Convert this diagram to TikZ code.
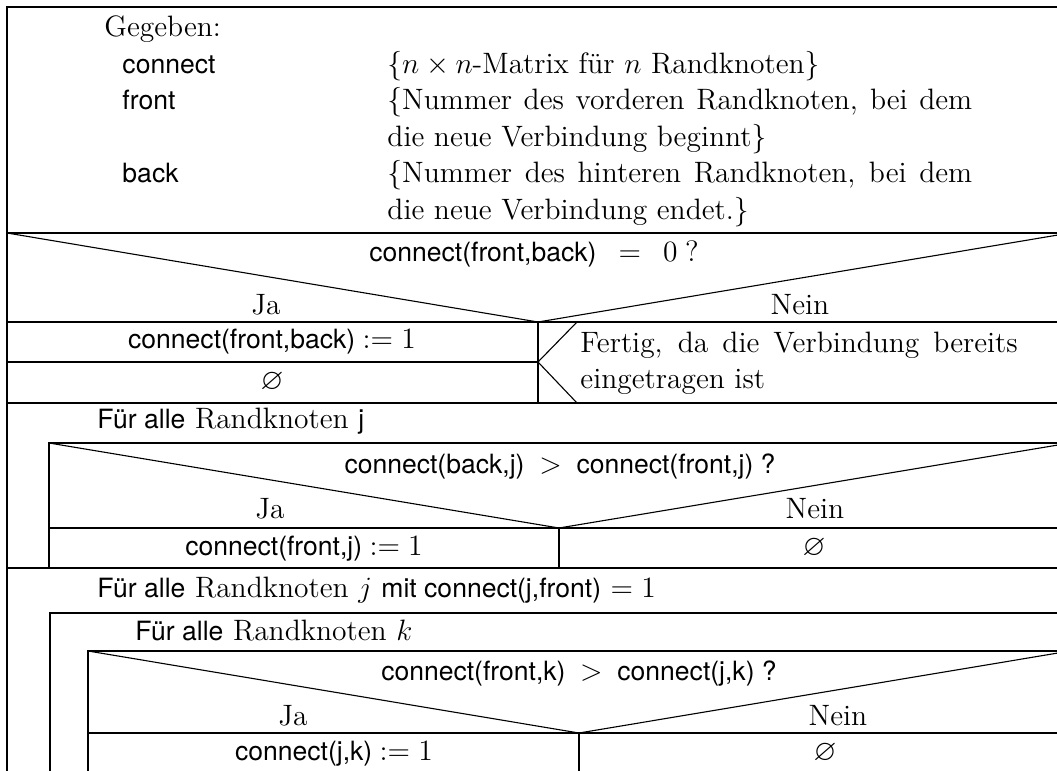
\documentclass[tikz,border=0pt]{standalone}
\usepackage{amsmath,amssymb}
\usepackage{fontspec}
\setsansfont[Scale=0.9]{TeX Gyre Heros}
\usetikzlibrary{positioning,calc}

\begin{document}
\begin{tikzpicture}[x=0.407pt, y=-0.407pt,
  rahmen/.style={line width=1.2pt},
  diag/.style={line width=0.45pt},
  txt/.style={inner sep=0pt, font=\fontsize{12}{14.5}\selectfont},
  sf/.style={inner sep=0pt, font=\fontsize{12}{14.5}\selectfont\sffamily}]
  \useasboundingbox (0,0) rectangle (1057,771);
  \clip (0,0) rectangle (1057,771);

  % Rahmen und waagrechte Trennlinien
  \draw[rahmen] (7,800) -- (7,7) -- (1070,7);
  \draw[rahmen] (7,233) -- (1070,233);
  \draw[rahmen] (7,322) -- (1070,322);
  \draw[rahmen] (7,403) -- (1070,403);
  \draw[rahmen] (7,568) -- (1070,568);

  % Gegeben
  \node[txt, anchor=base west] (gegeben) at (104,37) {Gegeben:};
  \node[sf, anchor=base west] (vconnect) at (122,74) {connect};
  \node[sf, anchor=base west] (vfront) at (122,110) {front};
  \node[sf, anchor=base west] (vback) at (122,183) {back};
  \node[txt, anchor=base west] (dconnect) at (387,74) {\{$n \times n$-Matrix für $n$ Randknoten\}};
  \node[txt, anchor=base west] (dfront) at (387,110) {\makebox[238pt][s]{\{Nummer des vorderen Randknoten, bei dem}};
  \node[txt, anchor=base west] (dfront2) at (387,147) {die neue Verbindung beginnt\}};
  \node[txt, anchor=base west] (dback) at (387,183) {\makebox[238pt][s]{\{Nummer des hinteren Randknoten, bei dem}};
  \node[txt, anchor=base west] (dback2) at (387,220) {die neue Verbindung endet.\}};

  % Verzweigung 1
  \draw[diag] (7,233) -- (538,322) -- (1070,233);
  \node[sf, anchor=base] (cond1) at (534,262) {connect(front,back)\ \ \ $=$\ \ \ $0$ \textrm{?}};
  \node[txt, anchor=base] (ja1) at (266,315) {Ja};
  \node[txt, anchor=base] (nein1) at (800,315) {Nein};
  \draw[rahmen] (7,362) -- (538,362);
  \draw[rahmen] (538,322) -- (538,403);
  \draw[diag] (577,322) -- (538,362) -- (577,403);
  \node[sf, anchor=base] (set1) at (272,349) {connect(front,back) $:= 1$};
  \node[txt, anchor=base] (leer1) at (272,390) {$\varnothing$};
  \node[txt, anchor=base west] (fertig) at (580,353) {\makebox[178pt][s]{Fertig, da die Verbindung bereits}};
  \node[txt, anchor=base west] (fertig2) at (580,389) {eingetragen ist};

  % Schleife ueber j
  \node[txt, anchor=base west] (loopj) at (97,429) {\textsf{Für alle} Randknoten \textsf{j}};
  \draw[rahmen] (49,568) -- (49,443) -- (1070,443);
  \draw[diag] (49,443) -- (559,528) -- (1070,443);
  \node[sf, anchor=base] (cond2) at (560,474) {connect(back,j)\ \ $>$\ \ connect(front,j)\ ?};
  \node[txt, anchor=base] (ja2) at (270,519) {Ja};
  \node[txt, anchor=base] (nein2) at (815,519) {Nein};
  \draw[rahmen] (49,528) -- (1070,528);
  \draw[rahmen] (559,528) -- (559,568);
  \node[sf, anchor=base] (set2) at (304,556) {connect(front,j) $:= 1$};
  \node[txt, anchor=base] (leer2) at (814,556) {$\varnothing$};

  % Schleife ueber j mit connect(j,front) = 1
  \node[txt, anchor=base west] (loopjf) at (97,598) {\textsf{Für alle} Randknoten $j$ \textsf{mit connect(j,front)} $= 1$};
  \draw[rahmen] (50,800) -- (50,613) -- (1070,613);
  \node[txt, anchor=base west] (loopk) at (135,640) {\textsf{Für alle} Randknoten $k$};
  \draw[rahmen] (88,800) -- (88,651) -- (1070,651);
  \draw[diag] (88,651) -- (579,733) -- (1070,651);
  \node[sf, anchor=base] (cond3) at (579,680) {connect(front,k)\ \ $>$\ \ connect(j,k)\ ?};
  \node[txt, anchor=base] (ja3) at (293,725) {Ja};
  \node[txt, anchor=base] (nein3) at (838,725) {Nein};
  \draw[rahmen] (88,733) -- (1070,733);
  \draw[rahmen] (579,733) -- (579,800);
  \node[sf, anchor=base] (set3) at (334,760) {connect(j,k) $:= 1$};
  \node[txt, anchor=base] (leer3) at (825,760) {$\varnothing$};
\end{tikzpicture}
\end{document}
